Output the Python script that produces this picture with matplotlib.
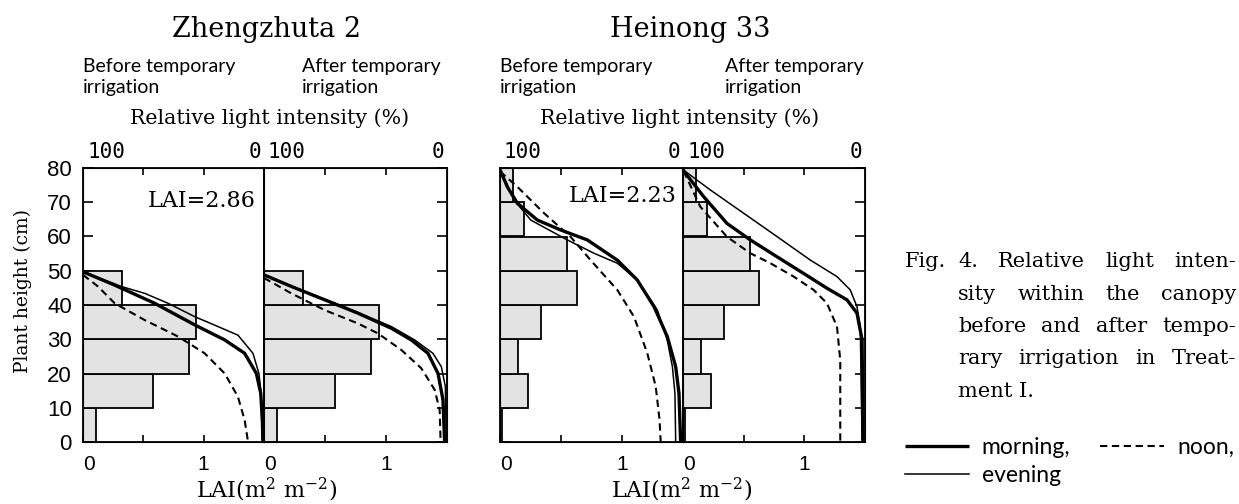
import matplotlib
matplotlib.use("Agg")
import matplotlib.pyplot as plt
from matplotlib.transforms import ScaledTranslation

# === data: leaf area per 10 cm layer (LAI, m2 m-2) ===
zz_layers = [0, 10, 20, 30, 40]
zz_lai = [0.11, 0.58, 0.88, 0.94, 0.32]
hn_layers = [0, 10, 20, 30, 40, 50, 60, 70]
hn_lai = [0.02, 0.23, 0.15, 0.34, 0.63, 0.55, 0.20, 0.11]

# === relative light intensity (%) vs plant height (cm) ===
# Zhengzhuta 2, before irrigation
zzb_morning_h = [49.7, 45.8, 40.5, 34.2, 29.8, 25.9, 20.0, 14.2, 6.4, 0]
zzb_morning_L = [100, 82.5, 60.4, 38.3, 21.7, 10.7, 4.2, 1.8, 0.9, 0.6]
zzb_evening_h = [49.7, 45.4, 43.4, 40.5, 36.6, 33.7, 31.2, 25.9, 20.0, 15.2, 0]
zzb_evening_L = [100, 78.8, 65.9, 53.0, 38.3, 25.4, 14.4, 6.1, 2.8, 1.8, 0.9]
zzb_noon_h = [48.8, 45.4, 40.5, 35.6, 30.8, 25.9, 20.0, 13.2, 6.4, 0]
zzb_noon_L = [100, 91.7, 82.5, 65.9, 47.5, 32.8, 21.7, 14.4, 10.7, 8.8]
# Zhengzhuta 2, after irrigation
zza_morning_h = [48.8, 45.4, 41.5, 37.6, 33.2, 29.8, 25.9, 20.0, 12.3, 0]
zza_morning_L = [100, 85.0, 66.8, 48.6, 30.4, 19.5, 10.4, 4.9, 2.2, 1.3]
zza_evening_h = [48.8, 45.5, 41.7, 37.8, 33.7, 29.8, 25.9, 22.0, 16.2, 0]
zza_evening_L = [100, 85.1, 66.8, 48.6, 30.4, 17.7, 7.7, 3.1, 0.9, 0.4]
zza_noon_h = [47.9, 43.4, 38.5, 34.6, 31.7, 26.9, 21.5, 15.2, 9.3, 0]
zza_noon_L = [100, 85.1, 66.8, 48.6, 37.7, 25.0, 14.0, 6.7, 4.0, 3.5]
# Heinong 33, before irrigation
hnb_morning_h = [79.5, 74.5, 69.7, 64.8, 61.9, 59.0, 53.1, 47.3, 39.5, 30.8, 22.0, 14.2, 0]
hnb_morning_L = [100, 96.0, 90.5, 79.6, 66.8, 52.3, 35.9, 25.0, 15.8, 8.6, 4.0, 2.2, 1.3]
hnb_evening_h = [79.4, 70.7, 64.8, 59.0, 55.1, 52.2, 47.3, 38.5, 29.8, 22.0, 14.2, 0]
hnb_evening_L = [100, 92.3, 83.2, 63.2, 48.6, 35.9, 25.0, 14.0, 8.6, 5.8, 4.4, 4.0]
hnb_noon_h = [79.0, 74.5, 66.8, 59.9, 53.1, 44.4, 36.6, 25.9, 16.2, 6.4, 0]
hnb_noon_L = [100, 90.5, 75.9, 61.4, 50.5, 35.9, 26.8, 19.5, 14.9, 12.8, 12.2]
# Heinong 33, after irrigation
hna_morning_h = [79.5, 78.5, 71.6, 63.8, 59.0, 54.1, 49.2, 44.9, 41.5, 37.6, 29.8, 0]
hna_morning_L = [100, 98.7, 88.6, 75.8, 63.0, 48.4, 33.7, 20.9, 9.9, 4.4, 1.6, 1.1]
hna_evening_h = [79.5, 73.6, 66.8, 60.0, 53.1, 48.3, 44.4, 39.5, 33.7, 0]
hna_evening_L = [100, 85.0, 66.7, 48.4, 30.0, 15.4, 8.1, 4.4, 2.6, 1.6]
hna_noon_h = [79.0, 78.0, 68.7, 59.9, 55.1, 52.2, 48.3, 44.4, 40.5, 33.7, 23.9, 0]
hna_noon_L = [100, 98.7, 90.5, 75.8, 63.0, 52.0, 39.2, 28.2, 20.9, 15.4, 13.6, 13.6]

varieties = ["Zhengzhuta 2", "Heinong 33"]
lai_totals = ["LAI=2.86", "LAI=2.23"]
light_ends = [100, 0]

W, H = 1239, 504
fig = plt.figure(figsize=(W / 100, H / 100), dpi=100)
plt.rcParams["mathtext.fontset"] = "dejavuserif"

SERIF = "DejaVu Serif"
SANS = "Lato"
HELV = "Liberation Sans"
MONO = "DejaVu Sans Mono"


def px(x, y):
    return x / W, 1 - y / H


styles = {
    "morning": dict(color="black", lw=2.4, solid_capstyle="butt"),
    "evening": dict(color="black", lw=1.1),
    "noon": dict(color="black", lw=1.5, linestyle=(0, (3.5, 2.2))),
}


def draw_panel(x0, x1, layers, lai, curves, side):
    left, top_ = px(x0, 168)
    right, bottom = px(x1, 442)
    ax = fig.add_axes([left, bottom, right - left, top_ - bottom])
    ax.barh(layers, lai, height=10, align="edge", color="#e3e3e3",
            edgecolor="black", linewidth=1.3, zorder=2)
    ax.set_xlim(0, 1.5)
    ax.set_ylim(0, 80)
    for s in ax.spines.values():
        s.set_linewidth(1.3)

    ax.set_xticks([0, 1])
    ax.set_xticks([0.5], minor=True)
    ax.set_xticklabels(["0", "1"], fontfamily=HELV, fontsize=15)
    ax.get_xticklabels()[0].set_horizontalalignment("left")
    ax.tick_params(axis="x", which="both", direction="in", length=5,
                   width=1.2, pad=9)

    ax.set_yticks(range(0, 81, 10))
    ax.tick_params(axis="y", direction="in", length=7, width=1.2,
                   left=(side in ("left", "label")), right=(side == "right"),
                   labelleft=(side == "label"), labelsize=16, pad=8)
    for t in ax.get_yticklabels():
        t.set_fontfamily(HELV)

    # top axis: relative light intensity, 100 % at left, 0 % at right
    top = ax.twiny()
    top.set_xlim(100, 0)
    top.set_xticks([200 / 3, 100 / 3])
    top.tick_params(axis="x", direction="in", length=5, width=1.2,
                    labeltop=False)
    trans = top.get_xaxis_transform()
    for val, ha, dx in zip(light_ends, ["left", "right"], [4, -3]):
        top.text(val, 1.0, str(val), ha=ha, va="baseline",
                 fontfamily=MONO, fontsize=15,
                 transform=trans + ScaledTranslation(dx / 100, 10 / 100,
                                                     fig.dpi_scale_trans))
    lines = {}
    for name, (h, L) in curves.items():
        lines[name], = top.plot(L, h, zorder=3, **styles[name])
    return ax, lines


panels = [
    (83, 264, zz_layers, zz_lai,
     {"noon": (zzb_noon_h, zzb_noon_L), "evening": (zzb_evening_h, zzb_evening_L),
      "morning": (zzb_morning_h, zzb_morning_L)}, "label"),
    (264, 447, zz_layers, zz_lai,
     {"noon": (zza_noon_h, zza_noon_L), "evening": (zza_evening_h, zza_evening_L),
      "morning": (zza_morning_h, zza_morning_L)}, "right"),
    (500, 683, hn_layers, hn_lai,
     {"noon": (hnb_noon_h, hnb_noon_L), "evening": (hnb_evening_h, hnb_evening_L),
      "morning": (hnb_morning_h, hnb_morning_L)}, "left"),
    (683, 865, hn_layers, hn_lai,
     {"noon": (hna_noon_h, hna_noon_L), "evening": (hna_evening_h, hna_evening_L),
      "morning": (hna_morning_h, hna_morning_L)}, "right"),
]
axes = []
for p in panels:
    axes.append(draw_panel(*p))

# LAI totals inside the "before" panels
axes[0][0].text(0.956, 0.858, lai_totals[0], transform=axes[0][0].transAxes,
                ha="right", va="baseline", fontfamily=SERIF, fontsize=16)
axes[2][0].text(0.967, 0.876, lai_totals[1], transform=axes[2][0].transAxes,
                ha="right", va="baseline", fontfamily=SERIF, fontsize=16)

# === headers ===
for cx, name, xb, xa in [(267, varieties[0], 83, 302), (690, varieties[1], 500, 725)]:
    fig.text(*px(cx, 37), name, ha="center", va="baseline", fontfamily=SERIF, fontsize=19.5)
    for xx, first in [(xb, "Before temporary"), (xa, "After temporary")]:
        fig.text(*px(xx, 72), first, ha="left", va="baseline",
                 fontfamily=SANS, fontsize=14)
        fig.text(*px(xx, 93), "irrigation", ha="left", va="baseline",
                 fontfamily=SANS, fontsize=14)
    fig.text(*px(cx + 3 if cx < 400 else cx - 10, 124), "Relative light intensity (%)",
             ha="center", va="baseline", fontfamily=SERIF, fontsize=14.8)
    fig.text(*px(cx if cx < 400 else cx - 8, 498), r"LAI(m$^2$ m$^{-2}$)",
             ha="center", va="baseline", fontfamily=SERIF, fontsize=16)

fig.text(*px(23, 291), "Plant height (cm)", rotation=90, ha="center", va="center",
         fontfamily=SERIF, fontsize=13.5)

# === caption (justified) ===
renderer = fig.canvas.get_renderer()
CAP = 15


def justify(words, x0, x1, y):
    texts = [fig.text(0, 1 - y / H, w, fontfamily=SERIF, fontsize=CAP, va="baseline")
             for w in words]
    widths = [t.get_window_extent(renderer).width for t in texts]
    gap = (x1 - x0 - sum(widths)) / max(len(words) - 1, 1)
    x = x0
    for t, w in zip(texts, widths):
        t.set_x(x / W)
        x += w + gap


caption = ["4.  Relative light inten-", "sity within the canopy",
           "before and after tempo-", "rary irrigation in Treat-"]
fig.text(*px(905, 267), "Fig.", fontfamily=SERIF, fontsize=CAP, va="baseline")
for i, line in enumerate(caption):
    justify(line.split(), 958, 1236, 267 + 32.5 * i)
fig.text(*px(958, 267 + 32.5 * 4), "ment I.", fontfamily=SERIF, fontsize=CAP,
         va="baseline")

# === legend ===
lines = axes[0][1]
fig.legend(handles=[lines["morning"], lines["evening"], lines["noon"]],
           labels=["morning,", "evening", "noon,"], ncol=2, loc="upper left",
           bbox_to_anchor=px(905, 437), frameon=False, handlelength=2.8,
           handletextpad=0.55, columnspacing=1.3, labelspacing=0.3,
           borderaxespad=0, borderpad=0, prop={"family": SANS, "size": 16.5})

fig.savefig("out.png", dpi=100)
